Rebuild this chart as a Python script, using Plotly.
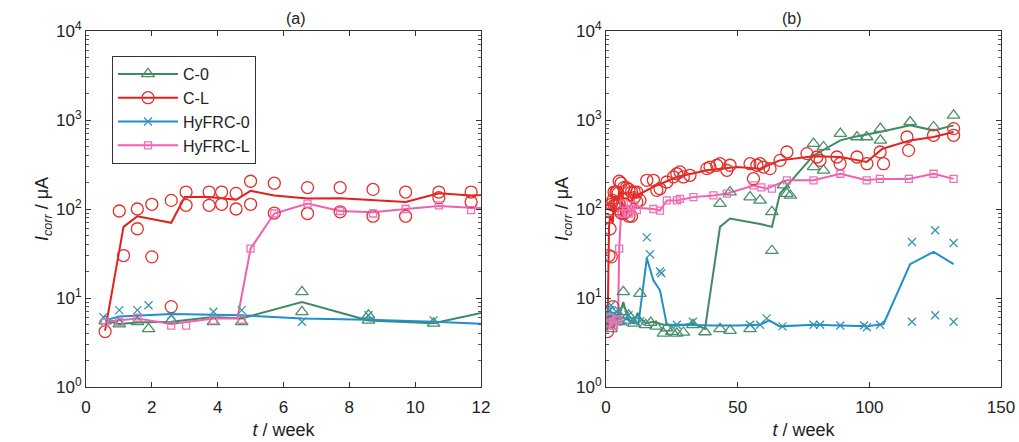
import plotly.graph_objects as go

# ---------------- data (weeks, µA) ----------------
cl_mt = [0.58, 1.01, 1.14, 1.56, 1.56, 2.0, 2.0, 2.59, 2.59, 3.04, 3.04, 3.74, 3.74, 4.12, 4.12,
         4.56, 4.56, 5.0, 5.0, 5.72, 5.72, 6.73, 6.73, 7.72, 7.72, 8.72, 8.72, 9.71, 9.71, 10.72,
         10.72, 11.7, 11.7, 12.9, 15.5, 18.0, 19.3, 20.5, 23.1, 25.6, 26.9, 28.1, 29.4, 31.9, 38.3,
         39.5, 42.1, 43.3, 45.9, 47.1, 54.7, 56.0, 57.3, 58.5, 59.8, 62.3, 66.1, 68.7, 76.3, 80.1,
         81.3, 87.7, 88.9, 95.3, 99.1, 104.1, 105.4, 114.3, 114.9, 124.4, 132.0, 132.0]
cl_mv = [4.2, 95, 30, 100, 60, 113, 29, 125, 8, 155, 110, 155, 110, 155, 113,
         150, 100, 205, 113, 195, 90, 174, 89, 174, 93, 166, 83, 155, 83, 155,
         134, 155, 120, 125, 210, 210, 162, 169, 201, 229, 249, 261, 229, 239, 284,
         296, 310, 323, 272, 310, 323, 219, 310, 323, 296, 284, 352, 437, 419, 384,
         352, 384, 323, 384, 323, 437, 323, 644, 456, 673, 800, 673]
cl_lt = [0.58, 1.14, 1.56, 2.59, 3.0, 3.74, 4.56, 5.0, 5.72, 6.73, 7.72, 8.72, 9.71, 10.72, 11.7,
         18, 26.9, 38.3, 49.7, 58.5, 66, 78.8, 89, 99, 105, 115.5, 124.4, 132]
cl_lv = [4.3, 63, 83, 70, 136, 136, 127, 160, 142, 131, 132, 127, 120, 150, 142,
         177, 229, 272, 297, 283, 352, 392, 384, 337, 476, 590, 644, 733]

c0_mt = [0.58, 1.01, 1.56, 1.9, 2.59, 3.87, 4.73, 6.56, 6.56, 8.58, 8.58, 10.56, 12.9, 15.0,
         17.0, 19.0, 21.8, 23.0, 25.0, 26.9, 29.4, 33.0, 37.6, 43.3, 47.1, 54.7, 43.3, 47.1,
         54.7, 58.5, 63.0, 63.0, 67.4, 68.7, 70.0, 78.8, 78.8, 82.6, 82.6, 89.0, 95.3, 99.0,
         104.2, 104.2, 115.5, 124.4, 132.0]
c0_mv = [5.5, 5.1, 5.4, 4.5, 5.6, 5.4, 5.4, 11.7, 7.0, 5.6, 6.4, 5.2, 11.2, 5.0,
         5.3, 4.8, 4.0, 4.6, 4.2, 4.0, 4.1, 5.0, 4.15, 4.5, 4.3, 4.5, 115, 155,
         136, 125, 93, 34, 185, 149, 142, 542, 297, 498, 272, 702, 644, 644,
         800, 590, 950, 835, 1130]
c0_lt = [0.58, 1.01, 1.56, 2.59, 3.87, 4.73, 6.56, 8.58, 10.56, 12.0, 12.9, 15, 18, 21.8,
         26.9, 30, 33, 37.6, 43.3, 47.1, 58.5, 63, 66.1, 78.8, 89, 94, 104, 115.5, 124.4, 132]
c0_lv = [5.6, 5.1, 5.3, 5.4, 6.1, 5.9, 9.0, 5.6, 5.2, 6.8, 6.0, 5.2, 5.4, 5.0,
         4.9, 5.0, 5.2, 4.5, 63, 78, 68, 63, 149, 400, 590, 644, 733, 870, 765, 870]

h0_mt = [0.53, 1.01, 1.56, 1.9, 2.59, 3.87, 4.73, 6.56, 8.58, 10.56, 13.0, 15.5, 16.7, 20.5,
         21.0, 26.9, 33.0, 54.7, 58.5, 61.0, 67.0, 78.8, 81.3, 89.0, 98.0, 99.1, 104.1,
         116.2, 125.0, 132.0, 116.2, 125.0, 132.0]
h0_mv = [6.1, 7.3, 7.3, 8.3, 6.4, 7.0, 7.3, 5.4, 6.4, 5.6, 5.5, 48, 31, 20,
         19, 5.0, 5.4, 5.0, 5.0, 5.9, 4.8, 5.0, 5.0, 4.9, 4.9, 4.7, 5.0,
         42.5, 57.6, 41.5, 5.4, 6.4, 5.4]
h0_lt = [0.58, 1.01, 2.59, 4.73, 6.56, 8.58, 10.56, 12.3, 15.5, 18, 20.5, 23.1, 30, 40, 50,
         58.5, 62, 66, 78.8, 89, 99.1, 105.4, 115.5, 124.4, 132]
h0_lv = [5.6, 6.2, 6.6, 6.4, 5.9, 5.7, 5.4, 5.1, 28, 15.8, 12.2, 5.0, 5.0, 4.9, 4.9,
         5.0, 5.6, 4.8, 5.0, 4.9, 4.8, 5.1, 24, 33, 24]

hl_mt = [0.58, 1.01, 1.56, 2.59, 3.04, 3.87, 4.73, 5.0, 5.72, 6.73, 7.72, 8.72, 9.71, 10.72,
         11.7, 18, 20.5, 23.1, 26.9, 28.1, 33.2, 40.8, 45.9, 56, 59, 63, 68.7, 78.8, 89, 99,
         104, 115, 124.4, 132]
hl_mv = [5.3, 5.4, 6.0, 4.9, 4.9, 5.6, 5.7, 35.8, 89, 115, 95, 89, 100, 110,
         97, 100, 96, 125, 125, 130, 136, 142, 149, 184, 175, 169, 210, 210, 249, 210,
         218, 218, 249, 218]
hl_lt = [0.58, 1.56, 2.59, 3.87, 4.6, 5.0, 5.72, 6.73, 7.72, 8.72, 9.71, 10.72, 11.7, 18, 20.5,
         23.1, 26.9, 33.2, 40.8, 45.9, 56, 61, 68.7, 78.8, 89, 99, 104, 115, 124.4, 132]
hl_lv = [5.4, 5.9, 5.1, 5.9, 5.9, 35.8, 89, 115, 95, 92, 100, 108, 103, 100, 96,
         125, 125, 136, 142, 149, 184, 169, 210, 210, 249, 210, 218, 218, 249, 218]

names = ["C-0", "C-L", "HyFRC-0", "HyFRC-L"]
y_ticks = [1, 10, 100, 1000, 10000]
y_ticktext = ["10<sup>0</sup>", "10<sup>1</sup>", "10<sup>2</sup>", "10<sup>3</sup>", "10<sup>4</sup>"]

# ---------------- styles ----------------
series = [
    (names[0], c0_mt, c0_mv, c0_lt, c0_lv, "#3f8a5f", "#4a8f6a", "triangle-up-open", 11),
    (names[1], cl_mt, cl_mv, cl_lt, cl_lv, "#e3201b", "#e3302b", "circle-open", 12),
    (names[2], h0_mt, h0_mv, h0_lt, h0_lv, "#1f8fcf", "#3a93b3", "x-thin-open", 8),
    (names[3], hl_mt, hl_mv, hl_lt, hl_lv, "#f060b0", "#f070b8", "square-open", 7),
]

fig = go.Figure()
for xa, ya in (("x", "y"), ("x2", "y2")):
    for name, mt, mv, lt, lv, lc, mc, sym, sz in series:
        fig.add_trace(go.Scatter(x=lt, y=lv, mode="lines", line=dict(color=lc, width=2),
                                 xaxis=xa, yaxis=ya, showlegend=False, hoverinfo="skip"))
    for name, mt, mv, lt, lv, lc, mc, sym, sz in series:
        fig.add_trace(go.Scatter(x=mt, y=mv, mode="markers",
                                 marker=dict(symbol=sym, size=sz, color=mc,
                                             line=dict(color=mc, width=1.3)),
                                 xaxis=xa, yaxis=ya, showlegend=False))

# legend entries
for name, mt, mv, lt, lv, lc, mc, sym, sz in series:
    fig.add_trace(go.Scatter(x=[None], y=[None], mode="lines+markers", name=name,
                             line=dict(color=lc, width=2),
                             marker=dict(symbol=sym, size=sz, color=mc, line=dict(color=mc, width=1.3)),
                             xaxis="x", yaxis="y"))

FONT = "Liberation Sans, Arial, sans-serif"
TXT = "#222222"

common_x = dict(showline=True, linecolor="#333333", linewidth=1, mirror="allticks",
                ticks="inside", ticklen=5, tickcolor="#333333", showgrid=False, zeroline=False,
                tickfont=dict(size=17, color=TXT, family=FONT), automargin=False,
                ticklabelstandoff=5,
                title=dict(text="<i>t</i> / week", font=dict(size=18, color=TXT, family=FONT), standoff=6))
common_y = dict(type="log", range=[0, 4], showline=True, linecolor="#333333", linewidth=1,
                mirror="allticks", ticks="inside", ticklen=5, tickcolor="#333333", showgrid=False,
                zeroline=False, tickvals=y_ticks, ticktext=y_ticktext,
                minor=dict(ticks="inside", ticklen=3, tickcolor="#555555", showgrid=False, dtick="D1"),
                tickfont=dict(size=17, color=TXT, family=FONT), automargin=False,
                title=dict(text="<i>I</i><sub><i>corr</i></sub> / μA",
                           font=dict(size=18, color=TXT, family=FONT), standoff=2))

W, H = 1019, 442
yd = [1 - 387 / H, 1 - 31 / H]
fig.update_layout(
    width=W, height=H, margin=dict(l=0, r=0, t=0, b=0),
    paper_bgcolor="white", plot_bgcolor="white",
    font=dict(family=FONT, color=TXT),
    xaxis=dict(domain=[86 / W, 481 / W], range=[0, 12], tickvals=[0, 2, 4, 6, 8, 10, 12],
               anchor="y", **common_x),
    yaxis=dict(domain=yd, anchor="x", **common_y),
    xaxis2=dict(domain=[606 / W, 1001 / W], range=[0, 150], tickvals=[0, 50, 100, 150],
                anchor="y2", **common_x),
    yaxis2=dict(domain=yd, anchor="x2", **common_y),
    legend=dict(x=112 / W, y=1 - 56 / H, xanchor="left", yanchor="top",
                bordercolor="#333333", borderwidth=1, bgcolor="white",
                font=dict(size=16, color=TXT, family=FONT), tracegroupgap=0, itemwidth=60),
    annotations=[
        dict(text="(a)", x=(86 + 481) / 2 / W, y=1 - 19 / H, xref="paper", yref="paper",
             yanchor="middle", showarrow=False, font=dict(size=16, color=TXT, family=FONT)),
        dict(text="(b)", x=(606 + 1001) / 2 / W, y=1 - 19 / H, xref="paper", yref="paper",
             yanchor="middle", showarrow=False, font=dict(size=16, color=TXT, family=FONT)),
    ],
)

fig.write_html("out.html")
